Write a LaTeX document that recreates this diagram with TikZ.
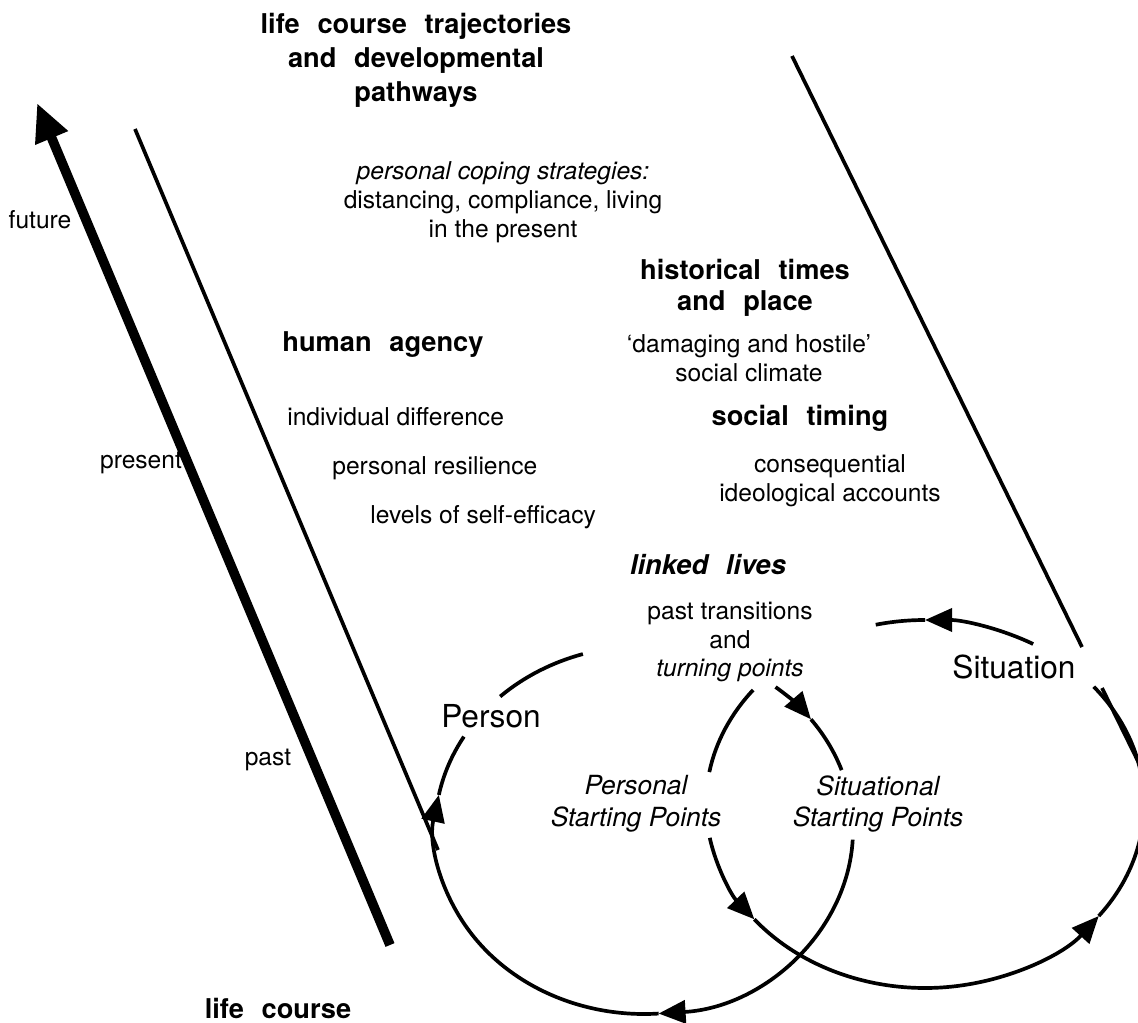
\documentclass[tikz,border=0pt]{standalone}
\usepackage{fontspec}
\setmainfont{TeX Gyre Heros}
\usetikzlibrary{arrows.meta}
\tikzstyle{txt} = [inner sep=0, align=center, font=\fontsize{14}{16.4}\selectfont]
\tikzstyle{hdr} = [inner sep=0, align=center, font=\fontsize{15.5}{17.6}\selectfont\bfseries]
\tikzstyle{big} = [inner sep=0, font=\fontsize{18}{21}\selectfont]
\tikzstyle{start} = [inner sep=0, align=center, font=\fontsize{15}{18}\selectfont\itshape]
\tikzstyle{curve} = [draw, line width=2.1pt]
\tikzstyle{line} = [draw, line width=2.1pt, ->, >={Triangle[length=0.54cm,width=0.46cm]}]
\newcommand{\wsp}{\hspace{0.65em}}

\begin{document}
\begin{tikzpicture}[x=0.02cm, y=0.02cm]
\useasboundingbox (0,0) rectangle (1138,-1023);

% time axis
\coordinate (t0) at (390,-945);
\coordinate (t1) at (37,-103);
\path [draw, line width=5.5pt, -{Triangle[length=0.76cm,width=0.66cm]}] (t0) -- (t1);

% bounds of the life course
\coordinate (l0) at (135,-129);
\coordinate (l1) at (438,-850);
\coordinate (r0) at (792,-56);
\coordinate (r1) at (1082,-647);
\coordinate (r2) at (1102,-688);
\coordinate (r3) at (1160,-806);
\path [curve] (l0) -- (l1);
\path [curve] (r0) -- (r1);
\path [curve] (r2) -- (r3);

% texts
\node [hdr, font=\fontsize{15.5}{19.3}\selectfont\bfseries] (title) at (416,-60) {life\wsp course\wsp trajectories\\and\wsp developmental\\pathways};
\node [txt] (coping) at (503,-202) {\textit{personal coping strategies:}\\distancing, compliance, living\\in the present};
\node [hdr] (hist) at (745,-288) {historical\wsp times\\and\wsp place};
\node [txt] (climate) at (749,-358) {‘damaging and hostile’\\social climate};
\node [hdr] (agency) at (383,-345) {human\wsp agency};
\node [txt, anchor=base west] (indiv) at (287,-425) {individual difference};
\node [txt, anchor=base west] (resil) at (332,-474) {personal resilience};
\node [txt, anchor=base west] (effic) at (370,-523) {levels of self-efficacy};
\node [hdr] (timing) at (800,-418) {social\wsp timing};
\node [txt] (accounts) at (830,-481) {consequential\\ideological accounts};
\node [hdr] (linked) at (708,-565) {\itshape linked\wsp lives};
\node [txt] (turning) at (730,-642) {past transitions\\and\\\textit{turning points}};
\node [big] (person) at (491,-716) {Person};
\node [big] (situation) at (1014,-667) {Situation};
\node [start] (pstart) at (636,-804) {Personal\\Starting Points};
\node [start] (sstart) at (878,-804) {Situational\\Starting Points};
\node [txt] (future) at (40,-220) {future};
\node [txt] (present) at (141,-463) {present};
\node [txt] (past) at (268,-760) {past};
\node [hdr] (course) at (278,-1008) {life\wsp course};

% person loop
\coordinate (pc) at (644,-830);
\path [line] (pc) ++(51:209 and 184) arc[start angle=51, end angle=37, x radius=209, y radius=184];
\path [curve] (pc) ++(37:209 and 184) arc[start angle=37, end angle=19, x radius=209, y radius=184];
\path [line] (pc) ++(-3:209 and 184) arc[start angle=-3, end angle=-86, x radius=209, y radius=184];
\path [line] (pc) ++(-86:209 and 184) arc[start angle=-86, end angle=-191, x radius=209, y radius=184];
\path [curve] (pc) ++(-191:209 and 184) arc[start angle=-191, end angle=-210.5, x radius=209, y radius=184];
\path [curve] (pc) ++(133.5:209 and 184) arc[start angle=133.5, end angle=107, x radius=209, y radius=184];

% situation loop
\coordinate (sc) at (925,-804);
\path [line] (sc) ++(190.6:219 and 184) arc[start angle=190.6, end angle=218.8, x radius=219, y radius=184];
\path [line] (sc) ++(218.8:219 and 184) arc[start angle=218.8, end angle=322.5, x radius=219, y radius=184];
\path [curve] (sc) ++(-37.5:219 and 184) arc[start angle=-37.5, end angle=39.6, x radius=219, y radius=184];
\path [line] (sc) ++(60.4:219 and 184) arc[start angle=60.4, end angle=90, x radius=219, y radius=184];
\path [curve] (sc) ++(90:219 and 184) arc[start angle=90, end angle=103, x radius=219, y radius=184];
\path [curve] (sc) ++(141.7:219 and 184) arc[start angle=141.7, end angle=170, x radius=219, y radius=184];

\end{tikzpicture}
\end{document}
